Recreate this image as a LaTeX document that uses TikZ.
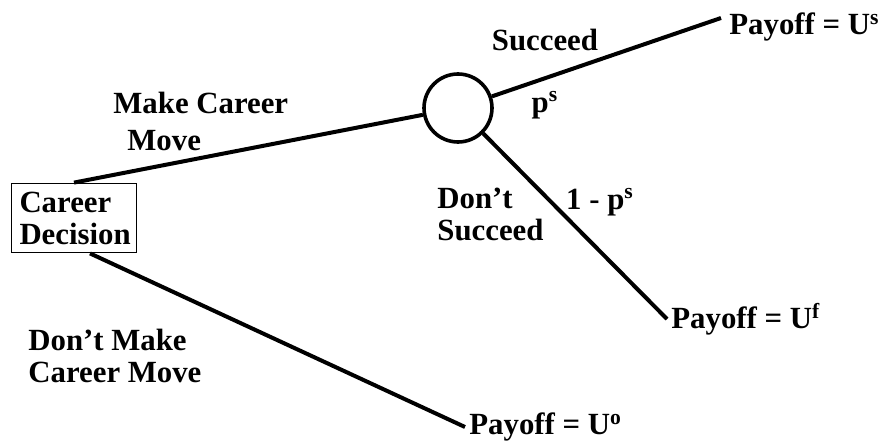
\documentclass[tikz,border=0pt]{standalone}
\usepackage{fontspec}
\setmainfont{Liberation Serif}
\begin{document}
\begin{tikzpicture}[x=0.5pt,y=-0.5pt,every node/.style={font=\fontsize{15.4}{16}\selectfont\bfseries}]
    % Define styles
    \tikzstyle{decisionbox} = [rectangle, draw, line width=0.9pt, minimum width=62.5pt, minimum height=34.5pt, inner xsep=4pt, inner ysep=0.5pt, text width=54.5pt, align=left]
    \tikzstyle{chancenode} = [circle, draw, line width=1.8pt, minimum size=34pt, inner sep=0pt]
    \tikzstyle{payoff} = [anchor=west, inner sep=2pt]
    \tikzstyle{branchtext} = [align=center, inner sep=0pt]
    \tikzstyle{branch} = [line width=2pt]

    \useasboundingbox (0,0) rectangle (878,444);

    % Components
    \node[decisionbox] (decision) at (74,218) {Career\\Decision};
    \node[chancenode] (chance) at (458,108) {};
    \node[payoff] (succPay) at (725,27) {Payoff = U\textsuperscript{s}};
    \node[payoff] (failPay) at (667,319) {Payoff = U\textsuperscript{f}};
    \node[payoff] (stayPay) at (465,427) {Payoff = U\textsuperscript{o}};

    % Branch labels
    \node[branchtext, anchor=west, align=left] (move) at (113,121) {Make Career\\[2.5pt]\hspace*{7pt}Move};
    \node[branchtext] (succ) at (545,40) {Succeed};
    \node[branchtext] (pSucc) at (545,105) {p\textsuperscript{s}};
    \node[branchtext, anchor=west, align=left] (fail) at (437,214) {Don’t\\Succeed};
    \node[branchtext] (pFail) at (600,202) {1 - p\textsuperscript{s}};
    \node[branchtext, anchor=west, align=left] (stay) at (28,356) {Don’t Make\\Career Move};

    % Connections
    \draw[branch] (decision.north) -- (chance);
    \draw[branch] (chance) -- ([shift={(-2pt,4.5pt)}]succPay.west);
    \draw[branch] (chance) -- (failPay.west);
    \draw[branch] ([xshift=8pt]decision.south) -- (stayPay.west);
\end{tikzpicture}
\end{document}
